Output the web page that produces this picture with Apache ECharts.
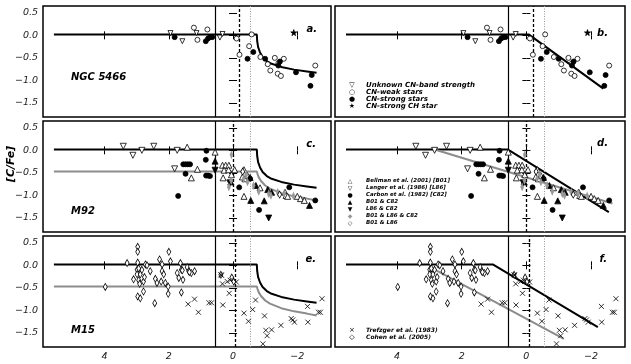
<!DOCTYPE html>
<html><head><meta charset="utf-8">
<script src="https://cdn.jsdelivr.net/npm/echarts@6/dist/echarts.min.js"></script>
<style>html,body{margin:0;padding:0;background:#fff}#c{width:631px;height:364px}</style>
</head><body><div id="c"></div>
<script>
// ---------- axis ticks ----------
const xTicks = [4, 2, 0, -2];
const yTicks = [0.5, 0, -0.5, -1, -1.5];
const xMin = -3.05, xMax = 5.92, yMin = -1.81, yMax = 0.65;

// ---------- NGC 5466 ----------
const ngcUnknown = [[1.95,0.05],[1.58,-0.13],[1.14,0.05],[0.41,-0.05],[0.33,0.03]];
const ngcWeak = [[1.22,0.17],[1.11,-0.1],[0.8,0.13],[-0.11,-0.07],[-0.2,-0.43],[-0.5,-0.24],[-0.58,0.02],[-0.85,-0.48],[-1.08,-0.64],[-1.16,-0.78],[-1.3,-0.5],[-1.58,-0.52],[-1.39,-0.85],[-1.49,-0.9],[-2.56,-0.67],[-1.41,-0.62]];
const ngcStrong = [[1.82,-0.04],[0.85,-0.13],[0.78,-0.07],[0.72,-0.04],[0.65,-0.04],[-0.45,-0.52],[-0.63,-0.37],[-1.0,-0.52],[-1.41,-0.67],[-1.46,-0.58],[-1.96,-0.82],[-2.45,-0.88],[-2.41,-1.12]];
const ngcCH = [[-1.89,0.06]];

// ---------- M92 ----------
const m92B01 = [[1.43,0.07],[1.11,-0.42],[1.3,-0.61],[0.56,-0.04],[0.33,-0.33],[0.23,-0.33],[0.13,-0.33],[0.28,-0.44],[0.14,-0.43],[0.31,-0.61],[0.05,-0.54],[-0.05,-0.43],[-0.34,-0.43],[-0.29,-0.59],[-0.37,-0.63],[-0.45,-0.56],[-0.34,-1.02],[-0.84,-0.83],[-1.62,-0.93],[-1.65,-1.0],[-1.7,-1.02],[-2.0,-1.02],[-2.1,-1.07],[-2.22,-1.11]];
const m92L86 = [[3.42,0.09],[3.12,-0.11],[2.84,0.0],[2.47,0.09],[1.74,0.0],[1.82,-0.41]];
const m92C82 = [[1.71,-1.01],[1.48,-0.52],[0.85,-0.21],[0.83,-0.01],[-0.19,-0.82],[-0.53,-0.63],[-0.81,-1.32],[-1.75,-0.82],[-2.56,-1.11],[1.55,-0.31],[1.48,-0.31],[1.41,-0.31],[1.34,-0.31],[0.84,-0.56],[0.78,-0.56],[0.72,-0.57]];
const m92B01C82 = [[0.56,-0.24],[0.07,-0.7],[-0.53,-0.6],[-0.71,-0.78],[-0.55,-1.11],[-0.97,-1.12],[-1.08,-0.87],[-1.2,-0.93],[-2.38,-1.22]];
const m92L86C82 = [[0.56,-0.44],[-1.11,-1.5],[0.1,-0.72]];
const m92All = [[0.05,-0.1],[0.06,-0.67],[0.13,-0.81],[-0.33,-0.63],[-0.41,-0.54],[-0.64,-0.78],[-0.8,-0.91],[-1.11,-0.96],[-1.18,-1.0],[-1.39,-0.93],[-1.59,-0.96],[-1.88,-1.01],[-0.45,-0.7]];
const m92B01L86 = [[-0.3,-0.47],[-1.45,-0.98]];

// ---------- M15 ----------
const m15C05 = [[3.98,-0.48],[3.3,0.05],[2.97,0.41],[2.97,0.3],[2.97,0.06],[2.99,-0.1],[3.1,-0.31],[2.99,-0.2],[2.89,-0.2],[2.94,-0.33],[2.79,-0.36],[2.84,-0.1],[2.73,0.02],[2.58,-0.13],[2.79,-0.58],[2.97,-0.69],[2.89,-0.73],[2.44,-0.84],[2.42,-0.3],[2.37,-0.39],[2.29,0.13],[2.21,0.02],[2.21,-0.13],[2.16,-0.2],[2.24,-0.36],[2.11,-0.39],[2.0,0.3],[1.95,0.09],[2.02,-0.63],[2.02,-0.47],[1.74,-0.17],[1.69,-0.28],[1.64,0.05],[1.61,-0.1],[1.56,-0.32],[1.61,-0.6],[1.43,-0.04],[1.38,-0.13],[1.3,-0.17],[1.2,-0.13],[2.94,-0.07],[2.91,-0.41],[2.68,0.0],[1.58,-0.11],[1.36,-0.15],[2.76,-0.26],[0.04,-0.27],[-0.02,-0.36],[0.38,-0.21]];
const m15T83 = [[1.2,-0.75],[1.4,-0.86],[1.08,-1.04],[0.75,-0.83],[0.67,-0.83],[0.32,-0.88],[0.38,-0.21],[0.36,-0.22],[0.33,-0.41],[0.12,-0.62],[0.18,-0.36],[0.09,-0.33],[-0.1,-0.37],[-0.34,-1.06],[-0.48,-1.24],[-0.61,-0.98],[-0.7,-0.77],[-0.93,-1.74],[-0.98,-1.12],[-1.02,-1.44],[-1.06,-1.56],[-1.2,-1.43],[-1.49,-1.33],[-1.81,-1.18],[-1.86,-1.21],[-1.91,-1.26],[-2.32,-0.91],[-2.33,-1.26],[-2.66,-1.04],[-2.72,-1.04],[-2.77,-0.74]];

// ---------- model lines ----------
const modelBlack = [[5.58,0.02],[-0.74,0.02],[-0.75,-0.12],[-0.78,-0.26],[-0.84,-0.38],[-0.92,-0.48],[-1.05,-0.57],[-1.2,-0.63],[-1.5,-0.7],[-1.9,-0.76],[-2.3,-0.8],[-2.6,-0.83]];
const modelGrey = [[5.58,-0.47],[-0.74,-0.47],[-0.76,-0.52],[-0.8,-0.6],[-0.87,-0.68],[-1.0,-0.78],[-1.15,-0.85],[-1.5,-0.95],[-1.9,-1.02],[-2.3,-1.07],[-2.6,-1.11]];
const bLine = [[5.58,0.02],[-0.07,0.02],[-2.38,-1.18]];
const dBlack = [[5.58,0.02],[0.58,0.02],[-2.55,-1.37]];
const dGrey = [[2.84,0.02],[-2.66,-1.18]];
const fBlack = [[5.58,0.02],[1.04,0.02],[-2.21,-1.37]];
const fGrey = [[2.92,-0.06],[-1.16,-1.63]];

// vertical reference lines
const solidX = 0.55, dottedX = -0.55;
const dashedX = [-0.2, 0.0, -0.08]; // per row

const grids = [
  {left:43, top:6, width:288, height:111},
  {left:335, top:6, width:290, height:111},
  {left:43, top:121, width:288, height:111},
  {left:335, top:121, width:290, height:111},
  {left:43, top:236, width:288, height:111},
  {left:335, top:236, width:290, height:111}
];

const minus = v => String(v).replace('-', '\u2212');
const labFont = {fontFamily:'DejaVu Sans', fontStyle:'italic', fontSize:9.5, color:'#222'};

const xAxes = [], yAxes = [];
grids.forEach((g, i) => {
  const bottomRow = i >= 4, leftCol = i % 2 === 0;
  ['bottom','top'].forEach((pos, k) => {
    xAxes.push({type:'value', gridIndex:i, position:pos, min:xMin, max:xMax, inverse:true,
      axisLine:{show:false}, splitLine:{show:false},
      axisTick:{show:true, inside:true, length:4, customValues:xTicks, lineStyle:{color:'#000', width:1}},
      axisLabel:Object.assign({show: bottomRow && k===0, customValues:xTicks, margin:5,
        formatter: v => minus(v)}, labFont)});
  });
  ['left','right'].forEach((pos, k) => {
    yAxes.push({type:'value', gridIndex:i, position:pos, min:yMin, max:yMax,
      axisLine:{show:false}, splitLine:{show:false},
      axisTick:{show:true, inside:true, length:4, customValues:yTicks, lineStyle:{color:'#000', width:1}},
      axisLabel:Object.assign({show: leftCol && k===0, customValues:yTicks, margin:5,
        formatter: v => minus(Number(v).toFixed(1))}, labFont)});
  });
});

const series = [];
function sc(g, data, symbol, size, fill, stroke, rotate) {
  series.push({type:'scatter', xAxisIndex:2*g, yAxisIndex:2*g, data, symbol, symbolSize:size,
    symbolRotate: rotate || 0, silent:true, z:5,
    itemStyle:{color:fill, borderColor:stroke, borderWidth:0.8, opacity:1}});
}
function ln(g, data, color, width, withMarks) {
  const s = {type:'line', xAxisIndex:2*g, yAxisIndex:2*g, data, symbol:'none', silent:true, z:3,
    lineStyle:{color, width}};
  if (withMarks) {
    const row = Math.floor(g/2);
    s.markLine = {silent:true, symbol:['none','none'], label:{show:false}, animation:false,
      data:[
        {xAxis:solidX, lineStyle:{color:'#000', width:1.2, type:'solid'}},
        {xAxis:dashedX[row], lineStyle:{color:'#000', width:1.3, type:[3,2]}},
        {xAxis:dottedX, lineStyle:{color:'#999', width:1, type:[1,1.5]}}
      ]};
  }
  series.push(s);
}
const STAR = 'path://M50,0L61,35L98,35L68,57L79,91L50,70L21,91L32,57L2,35L39,35Z';
const CROSS = 'path://M0,0L10,10M10,0L0,10';

// NGC 5466 panels (0, 1)
[0,1].forEach(g => {
  if (g === 0) ln(g, modelBlack, '#000', 2, true); else ln(g, bLine, '#000', 2, true);
  sc(g, ngcUnknown, 'triangle', 5, '#fff', '#000', 180);
  sc(g, ngcWeak, 'circle', 5, '#fff', '#000');
  sc(g, ngcStrong, 'circle', 5, '#000', '#000');
  sc(g, ngcCH, STAR, 6, '#000', '#000');
});
// M92 panels (2, 3)
[2,3].forEach(g => {
  if (g === 2) { ln(g, modelBlack, '#000', 2, true); ln(g, modelGrey, '#8c8c8c', 2, false); }
  else { ln(g, dBlack, '#000', 2, true); ln(g, dGrey, '#8c8c8c', 2, false); }
  sc(g, m92B01, 'triangle', 6, '#fff', '#000');
  sc(g, m92L86, 'triangle', 6, '#fff', '#000', 180);
  sc(g, m92C82, 'circle', 5, '#000', '#000');
  sc(g, m92B01C82, 'triangle', 6, '#000', '#000');
  sc(g, m92L86C82, 'triangle', 6, '#000', '#000', 180);
  sc(g, m92All, 'diamond', [3,7], '#999', '#999');
  sc(g, m92B01L86, 'diamond', [4,7], '#fff', '#000');
});
// M15 panels (4, 5)
[4,5].forEach(g => {
  if (g === 4) { ln(g, modelBlack, '#000', 2, true); ln(g, modelGrey, '#8c8c8c', 2, false); }
  else { ln(g, fBlack, '#000', 2, true); ln(g, fGrey, '#8c8c8c', 2, false); }
  sc(g, m15C05, 'diamond', [4,7], '#fff', '#000');
  sc(g, m15T83, CROSS, 5, 'transparent', '#000');
});

// ---------- texts ----------
const BI = sz => 'italic bold ' + sz + 'px "DejaVu Sans"';
const gfx = [];
function txt(x, y, text, font, align, fill, rot) {
  gfx.push({type:'text', x, y, rotation: rot || 0, silent:true, z:100,
    style:{text, font, fill: fill || '#000', align: align || 'left', verticalAlign:'middle'}});
}
txt(71, 77, 'NGC 5466', BI(10));
txt(71, 211, 'M92', BI(10));
txt(71, 330, 'M15', BI(10));
txt(317, 29, 'a.', BI(10), 'right');
txt(608, 33, 'b.', BI(10), 'right');
txt(316, 144, 'c.', BI(10), 'right');
txt(608, 143, 'd.', BI(10), 'right');
txt(316, 259, 'e.', BI(10), 'right');
txt(607, 259, 'f.', BI(10), 'right');
txt(11, 164, '[C/Fe]', BI(11), 'center', '#000', Math.PI/2);

// legend b
const legB = [['\u25BD','Unknown CN-band strength'],['\u25CB','CN-weak stars'],['\u25CF','CN-strong stars'],['\u2605','CN-strong CH star']];
const legBy = [85, 92, 99, 106];
legB.forEach((r, i) => { txt(352, legBy[i], r[0], '7px "DejaVu Sans"', 'center'); txt(366, legBy[i], r[1], BI(7)); });
// legend d
const legD = [['\u25B3','Bellman et al. (2001) [B01]','#000'],['\u25BD','Langer et al. (1986) [L86]','#000'],['\u25CF','Carbon et al. (1982) [C82]','#000'],['\u25B2','B01 & C82','#000'],['\u25BC','L86 & C82','#000'],['\u25C6','B01 & L86 & C82','#999'],['\u25C7','B01 & L86','#000']];
const legDy = [181, 188, 195, 202, 209, 216, 223];
legD.forEach((r, i) => { txt(350, legDy[i], r[0], '6px "DejaVu Sans"', 'center', r[2]); txt(366, legDy[i], r[1], BI(5.5)); });
// legend f
const legF = [['\u00D7','Trefzger et al. (1983)'],['\u25C7','Cohen et al. (2005)']];
const legFy = [330, 337];
legF.forEach((r, i) => { txt(352, legFy[i], r[0], '7px "DejaVu Sans"', 'center'); txt(366, legFy[i], r[1], BI(6)); });

const chart = echarts.init(document.getElementById('c'), null, {renderer:'canvas'});
chart.setOption({
  animation:false,
  backgroundColor:'#fff',
  grid: grids.map(g => Object.assign({show:true, borderColor:'#000', borderWidth:1.5, backgroundColor:'#fff', containLabel:false}, g)),
  xAxis: xAxes,
  yAxis: yAxes,
  series,
  graphic: gfx
});
</script></body></html>
